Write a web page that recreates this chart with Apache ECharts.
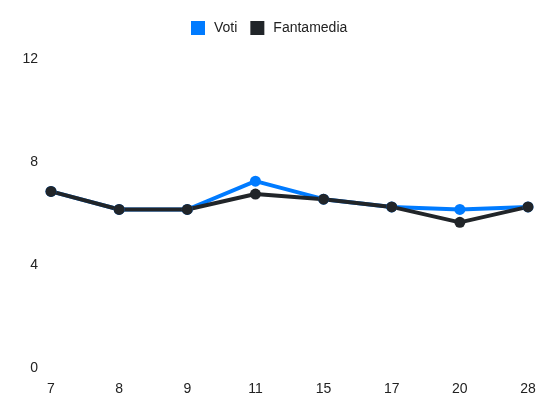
<!DOCTYPE html>
<html>
<head>
<meta charset="utf-8">
<script src="https://cdn.jsdelivr.net/npm/echarts@6/dist/echarts.min.js"></script>
<style>html,body{margin:0;padding:0;background:#fff}#c{width:550px;height:412px}</style>
</head>
<body>
<div id="c"></div>
<script>
const categories = ['7','8','9','11','15','17','20','28'];
const voti = [6.85, 6.15, 6.15, 7.25, 6.55, 6.25, 6.15, 6.25];
const fantamedia = [6.85, 6.15, 6.15, 6.75, 6.55, 6.25, 5.65, 6.25];
const yTicks = [0, 4, 8, 12];

const chart = echarts.init(document.getElementById('c'));
const font = 'Liberation Sans, Arial, sans-serif';
chart.setOption({
  animation: false,
  textStyle: { fontFamily: font },
  legend: {
    top: 16, left: 186,
    itemWidth: 14, itemHeight: 14, itemGap: 13,
    icon: 'rect',
    textStyle: { fontSize: 14, color: '#222', fontFamily: font, padding: [0, 0, 0, 4] },
    data: ['Voti', 'Fantamedia']
  },
  grid: { left: 51, right: 22, top: 58.7, bottom: 44, containLabel: false },
  xAxis: {
    type: 'category', data: categories, boundaryGap: false,
    axisLine: { show: false }, axisTick: { show: false },
    axisLabel: { margin: 14, fontSize: 14, color: '#222', fontFamily: font }
  },
  yAxis: {
    type: 'value', min: yTicks[0], max: yTicks[yTicks.length - 1], interval: 4,
    splitLine: { show: false }, axisLine: { show: false }, axisTick: { show: false },
    axisLabel: { margin: 13, fontSize: 14, color: '#222', fontFamily: font }
  },
  series: [
    { name: 'Voti', type: 'line', data: voti, color: '#007bff',
      lineStyle: { width: 4 }, symbol: 'circle', symbolSize: 11 },
    { name: 'Fantamedia', type: 'line', data: fantamedia, color: '#212529',
      lineStyle: { width: 4 }, symbol: 'circle', symbolSize: 11 }
  ]
});
</script>
</body>
</html>
